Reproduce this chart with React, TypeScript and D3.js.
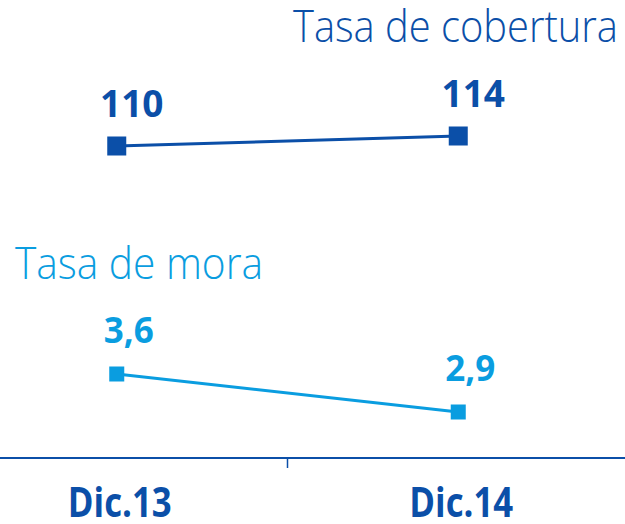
import React from "react";
import * as d3 from "d3";

const categories = ["Dic.13", "Dic.14"];
const coberturaValues = [110, 114];
const moraValues = [3.6, 2.9];
const coberturaLabels = ["110", "114"];
const moraLabels = ["3,6", "2,9"];
const coberturaTitle = "Tasa de cobertura";
const moraTitle = "Tasa de mora";

const DARK = "#0b4fa8";
const LIGHT = "#0a9de0";

export default function App() {
  const W = 625, H = 524;
  const x = d3.scaleBand<string>().domain(categories).range([-54, 629]);
  const cx = (c: string) => (x(c) as number) + x.bandwidth() / 2;
  const yTop = d3.scaleLinear().domain([110, 114]).range([146, 136]);
  const yBot = d3.scaleLinear().domain([2.9, 3.6]).range([412, 374]);

  const topLine = d3.line<number>().x((_, i) => cx(categories[i])).y((d) => yTop(d));
  const botLine = d3.line<number>().x((_, i) => cx(categories[i])).y((d) => yBot(d));

  const boundary = (x(categories[1]) as number);

  return (
    <svg width={W} height={H} style={{ position: "absolute", left: 0, top: 0 }}>
      <text x={618} y={42} textAnchor="end" fill={DARK} fontFamily="'Open Sans', sans-serif"
        fontWeight={300} fontSize={44} textLength={325} lengthAdjust="spacingAndGlyphs">{coberturaTitle}</text>
      <text x={15} y={279} textAnchor="start" fill={LIGHT} fontFamily="'Open Sans', sans-serif"
        fontWeight={300} fontSize={44} textLength={248} lengthAdjust="spacingAndGlyphs">{moraTitle}</text>

      <path d={topLine(coberturaValues) || ""} fill="none" stroke={DARK} strokeWidth={3} />
      {coberturaValues.map((v, i) => (
        <g key={"t" + i}>
          <rect x={cx(categories[i]) - 9.5} y={yTop(v) - 9.5} width={19} height={19} fill={DARK} />
          <text x={cx(categories[i]) + 15} y={yTop(v) - 29} textAnchor="middle" fill={DARK}
            fontFamily="'Open Sans', sans-serif" fontWeight={700} fontSize={37}>{coberturaLabels[i]}</text>
        </g>
      ))}

      <path d={botLine(moraValues) || ""} fill="none" stroke={LIGHT} strokeWidth={3} />
      {moraValues.map((v, i) => (
        <g key={"b" + i}>
          <rect x={cx(categories[i]) - 7.5} y={yBot(v) - 7.5} width={15} height={15} fill={LIGHT} />
          <text x={cx(categories[i]) + 12} y={yBot(v) - 31} textAnchor="middle" fill={LIGHT}
            fontFamily="'Open Sans', sans-serif" fontWeight={700} fontSize={35}>{moraLabels[i]}</text>
        </g>
      ))}

      <line x1={0} x2={W} y1={458} y2={458} stroke={DARK} strokeWidth={2} />
      <line x1={boundary} x2={boundary} y1={458} y2={468} stroke={DARK} strokeWidth={1.5} />
      {categories.map((c) => (
        <text key={c} x={cx(c) + 3} y={517} textAnchor="middle" fill={DARK}
          fontFamily="'Open Sans', sans-serif" fontWeight={700} fontSize={42}
          textLength={104} lengthAdjust="spacingAndGlyphs">{c}</text>
      ))}
    </svg>
  );
}
